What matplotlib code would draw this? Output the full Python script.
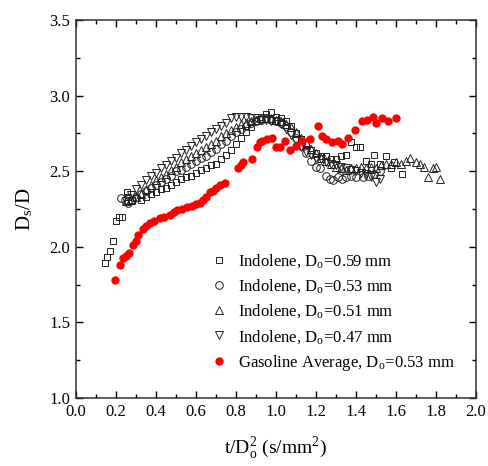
import matplotlib
matplotlib.use('Agg')
import matplotlib.pyplot as plt
from matplotlib.ticker import MultipleLocator

plt.rcParams['font.family'] = ['Liberation Serif', 'DejaVu Serif']
plt.rcParams['mathtext.fontset'] = 'stix'

# Indolene, Do = 0.59 mm (open squares)
sq_x = [0.145, 0.158, 0.17, 0.186, 0.20, 0.215, 0.23, 0.255, 0.26, 0.28, 0.30, 0.325, 0.35, 0.375,
        0.40, 0.425, 0.45, 0.475, 0.50, 0.525, 0.55, 0.575, 0.60, 0.625, 0.65, 0.675, 0.70, 0.725,
        0.75, 0.775, 0.80, 0.825, 0.85, 0.875, 0.90, 0.925, 0.95, 0.975, 1.00, 1.025, 1.05, 1.075,
        1.10, 1.125, 1.15, 1.175, 1.20, 1.225, 1.25, 1.275, 1.30, 1.325, 1.35, 1.375, 1.40, 1.42,
        1.45, 1.475, 1.49, 1.52, 1.55, 1.575, 1.59, 1.63]
sq_y = [1.89, 1.93, 1.97, 2.04, 2.17, 2.20, 2.20, 2.36, 2.33, 2.31, 2.32, 2.31, 2.33, 2.35,
        2.36, 2.38, 2.39, 2.41, 2.43, 2.45, 2.46, 2.47, 2.49, 2.51, 2.52, 2.54, 2.55, 2.58,
        2.61, 2.64, 2.68, 2.72, 2.76, 2.79, 2.83, 2.86, 2.88, 2.89, 2.86, 2.85, 2.83, 2.80,
        2.75, 2.71, 2.68, 2.64, 2.62, 2.60, 2.60, 2.58, 2.58, 2.60, 2.61, 2.69, 2.66, 2.66,
        2.57, 2.55, 2.61, 2.55, 2.60, 2.52, 2.56, 2.48]

# Indolene, Do = 0.53 mm (open circles)
ci_x = [0.225, 0.245, 0.26, 0.28, 0.30, 0.325, 0.35, 0.375, 0.40, 0.425, 0.45, 0.475, 0.50, 0.525,
        0.55, 0.575, 0.60, 0.625, 0.65, 0.675, 0.70, 0.725, 0.75, 0.775, 0.80, 0.825, 0.85, 0.875,
        0.90, 0.925, 0.95, 0.975, 1.00, 1.025, 1.05, 1.075, 1.10, 1.125, 1.15, 1.175, 1.20, 1.22,
        1.25, 1.27, 1.285, 1.31, 1.33, 1.35, 1.375, 1.40, 1.435, 1.46, 1.49, 1.52]
ci_y = [2.32, 2.31, 2.29, 2.31, 2.33, 2.35, 2.37, 2.39, 2.41, 2.43, 2.45, 2.47, 2.50, 2.51,
        2.53, 2.55, 2.57, 2.59, 2.60, 2.63, 2.65, 2.68, 2.70, 2.73, 2.76, 2.78, 2.80, 2.82,
        2.83, 2.84, 2.85, 2.84, 2.83, 2.82, 2.80, 2.76, 2.72, 2.67, 2.62, 2.57, 2.53, 2.52,
        2.47, 2.45, 2.44, 2.46, 2.45, 2.46, 2.47, 2.46, 2.46, 2.47, 2.48, 2.50]

# Indolene, Do = 0.51 mm (open triangles up)
tu_x = [0.25, 0.275, 0.30, 0.325, 0.35, 0.375, 0.40, 0.425, 0.45, 0.475, 0.50, 0.525, 0.55, 0.575,
        0.60, 0.625, 0.65, 0.675, 0.70, 0.725, 0.75, 0.775, 0.80, 0.825, 0.85, 0.875, 0.90, 0.925,
        0.95, 0.975, 1.00, 1.025, 1.05, 1.075, 1.10, 1.125, 1.15, 1.175, 1.20, 1.225, 1.25, 1.275,
        1.30, 1.325, 1.35, 1.375, 1.40, 1.425, 1.45, 1.475, 1.50, 1.525, 1.55, 1.575, 1.60, 1.625,
        1.65, 1.67, 1.70, 1.72, 1.74, 1.76, 1.785, 1.80, 1.82]
tu_y = [2.30, 2.31, 2.33, 2.35, 2.38, 2.41, 2.44, 2.46, 2.48, 2.51, 2.53, 2.56, 2.58, 2.60,
        2.62, 2.64, 2.66, 2.68, 2.70, 2.73, 2.75, 2.77, 2.79, 2.81, 2.82, 2.83, 2.84, 2.85,
        2.85, 2.85, 2.84, 2.83, 2.81, 2.79, 2.76, 2.72, 2.69, 2.65, 2.62, 2.59, 2.57, 2.55,
        2.53, 2.52, 2.51, 2.52, 2.52, 2.53, 2.52, 2.53, 2.52, 2.54, 2.55, 2.55, 2.56, 2.55,
        2.57, 2.59, 2.56, 2.55, 2.53, 2.46, 2.52, 2.53, 2.45]

# Indolene, Do = 0.47 mm (open triangles down)
td_x = [0.25, 0.275, 0.30, 0.325, 0.35, 0.375, 0.40, 0.425, 0.45, 0.475, 0.50, 0.525, 0.55, 0.575,
        0.60, 0.625, 0.65, 0.675, 0.70, 0.725, 0.75, 0.775, 0.80, 0.825, 0.85, 0.875, 0.90, 0.925,
        0.95, 0.975, 1.00, 1.025, 1.05, 1.075, 1.10, 1.125, 1.15, 1.175, 1.20, 1.225, 1.25, 1.275,
        1.30, 1.325, 1.35, 1.375, 1.40, 1.425, 1.45, 1.475, 1.50, 1.52]
td_y = [2.30, 2.34, 2.38, 2.41, 2.44, 2.47, 2.49, 2.52, 2.54, 2.57, 2.59, 2.62, 2.64, 2.67,
        2.69, 2.71, 2.73, 2.76, 2.78, 2.80, 2.82, 2.85, 2.86, 2.86, 2.86, 2.85, 2.85, 2.84,
        2.84, 2.83, 2.83, 2.81, 2.78, 2.74, 2.70, 2.66, 2.63, 2.61, 2.59, 2.58, 2.56, 2.55,
        2.54, 2.53, 2.52, 2.51, 2.50, 2.49, 2.48, 2.46, 2.43, 2.45]

# Gasoline average, Do = 0.53 mm (red filled circles)
ga_x = [0.195, 0.22, 0.237, 0.25, 0.265, 0.286, 0.30, 0.31, 0.336, 0.35, 0.37, 0.39, 0.42, 0.44,
        0.47, 0.49, 0.505, 0.53, 0.555, 0.58, 0.60, 0.62, 0.635, 0.65, 0.67, 0.685, 0.70, 0.72,
        0.745, 0.81, 0.825, 0.835, 0.88, 0.905, 0.92, 0.93, 0.955, 0.98, 1.00, 1.02, 1.045, 1.07,
        1.10, 1.13, 1.17, 1.21, 1.23, 1.25, 1.28, 1.31, 1.33, 1.36, 1.395, 1.43, 1.455, 1.485,
        1.50, 1.53, 1.56, 1.60]
ga_y = [1.78, 1.88, 1.925, 1.94, 1.96, 2.01, 2.04, 2.08, 2.12, 2.14, 2.16, 2.17, 2.19, 2.20,
        2.21, 2.23, 2.245, 2.25, 2.26, 2.27, 2.28, 2.29, 2.31, 2.33, 2.36, 2.37, 2.39, 2.41,
        2.42, 2.52, 2.54, 2.56, 2.58, 2.66, 2.69, 2.70, 2.71, 2.72, 2.66, 2.66, 2.70, 2.64,
        2.67, 2.70, 2.71, 2.80, 2.73, 2.71, 2.69, 2.70, 2.68, 2.72, 2.77, 2.83, 2.84, 2.86,
        2.82, 2.85, 2.83, 2.85]

labels = [r'Indolene, D$_\mathregular{o}$=0.59 mm',
          r'Indolene, D$_\mathregular{o}$=0.53 mm',
          r'Indolene, D$_\mathregular{o}$=0.51 mm',
          r'Indolene, D$_\mathregular{o}$=0.47 mm',
          r'Gasoline Average, D$_\mathregular{o}$=0.53 mm']

fig = plt.figure(figsize=(4.89, 4.66), dpi=100)
ax = fig.add_axes([0.155, 0.146, 0.818, 0.811])

open_kw = dict(linestyle='none', markerfacecolor='none', markeredgecolor='#222222',
               markeredgewidth=0.7)
ax.plot(sq_x, sq_y, marker='s', markersize=5, label=labels[0], **open_kw)
ax.plot(ci_x, ci_y, marker='o', markersize=5.5, label=labels[1], **open_kw)
ax.plot(tu_x, tu_y, marker='^', markersize=6.3, label=labels[2], **open_kw)
ax.plot(td_x, td_y, marker='v', markersize=6.3, label=labels[3], **open_kw)
ax.plot(ga_x, ga_y, marker='o', markersize=6, linestyle='none', color='red',
        markeredgewidth=0, label=labels[4])

ax.set_xlim(0.0, 2.0)
ax.set_ylim(1.0, 3.5)
ax.xaxis.set_major_locator(MultipleLocator(0.2))
ax.xaxis.set_minor_locator(MultipleLocator(0.1))
ax.yaxis.set_major_locator(MultipleLocator(0.5))
ax.yaxis.set_minor_locator(MultipleLocator(0.25))
ax.xaxis.set_major_formatter(lambda v, p: f'{v:.1f}')
ax.yaxis.set_major_formatter(lambda v, p: f'{v:.1f}')
ax.tick_params(which='both', direction='in', top=True, right=True, labelsize=12, pad=4)
ax.tick_params(which='major', length=5, width=1)
ax.tick_params(which='minor', length=3, width=1)
for s in ax.spines.values():
    s.set_linewidth(1.1)
    s.set_color('#333333')

ax.set_xlabel(r't/D$_\mathregular{o}^\mathregular{2}$ (s/mm$^\mathregular{2}$)', fontsize=14, labelpad=11)
ax.set_ylabel(r'D$_\mathregular{s}$/D', fontsize=15, labelpad=10)

ax.legend(loc='lower right', bbox_to_anchor=(0.985, 0.026), frameon=False, fontsize=12,
          handletextpad=0.6, labelspacing=0.45, handlelength=1.0, borderaxespad=0.5)

fig.savefig('out.png', dpi=100)
